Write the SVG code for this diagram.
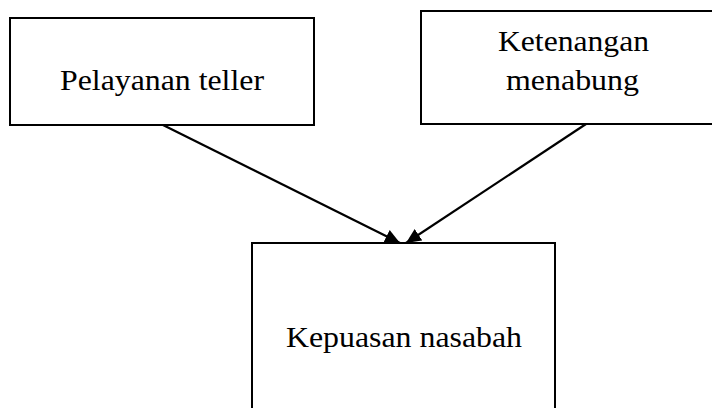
<svg xmlns="http://www.w3.org/2000/svg" width="712" height="408" viewBox="0 0 712 408">
<style>
.box{fill:#fff;stroke:#000;stroke-width:2}
.lbl{font-family:"Liberation Serif","Times New Roman",serif;font-size:30px;fill:#000;text-anchor:middle}
.conn{stroke:#000;stroke-width:2.2;fill:none}
</style>
<defs>
<marker id="ah" markerUnits="userSpaceOnUse" markerWidth="16" markerHeight="16" refX="15" refY="7" orient="auto">
<path d="M0,0 L15,7 L0,14 Z" fill="#000"/>
</marker>
</defs>
<rect width="712" height="408" fill="#fff"/>
<g id="connectors">
<line class="conn" x1="163" y1="125" x2="400" y2="243" marker-end="url(#ah)"/>
<line class="conn" x1="586" y1="124" x2="406" y2="243" marker-end="url(#ah)"/>
</g>
<g id="node-pelayanan">
<rect class="box" x="10" y="18" width="304" height="107"/>
<text class="lbl" x="162" y="90" textLength="204" lengthAdjust="spacingAndGlyphs">Pelayanan teller</text>
</g>
<g id="node-ketenangan">
<rect class="box" x="421" y="11" width="300" height="113"/>
<text class="lbl" x="573.5" y="51" textLength="151" lengthAdjust="spacingAndGlyphs">Ketenangan</text>
<text class="lbl" x="572.5" y="90" textLength="133" lengthAdjust="spacingAndGlyphs">menabung</text>
</g>
<g id="node-kepuasan">
<rect class="box" x="252" y="243" width="303" height="200"/>
<text class="lbl" x="404" y="347" textLength="236" lengthAdjust="spacingAndGlyphs">Kepuasan nasabah</text>
</g>
</svg>
